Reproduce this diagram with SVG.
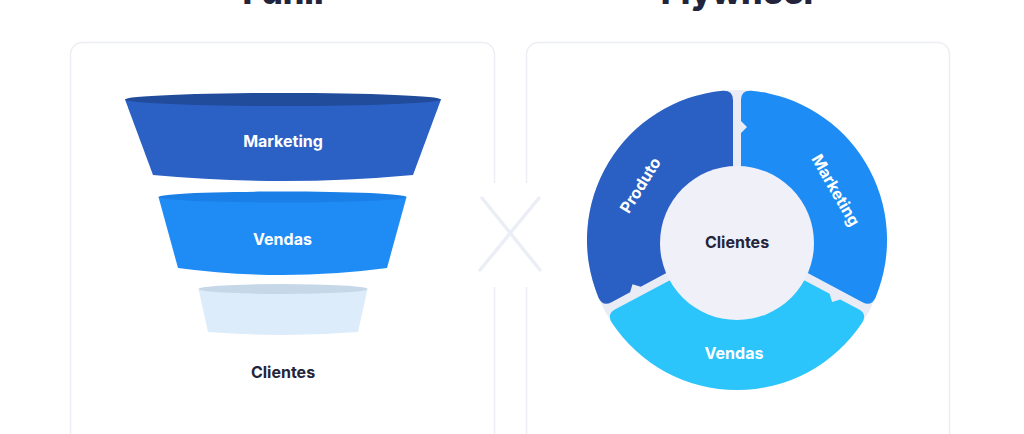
<svg xmlns="http://www.w3.org/2000/svg" width="1024" height="434" viewBox="0 0 1024 434">
<style>
.title{font-family:Inter,"Liberation Sans",sans-serif;font-weight:800;font-size:34px;fill:#23243b;text-anchor:middle}
.lbl{font-family:Inter,"Liberation Sans",sans-serif;font-weight:700;font-size:16px;text-anchor:middle;dominant-baseline:central}
.w{fill:#ffffff}
.d{fill:#23243b}
.card{fill:#ffffff;stroke:#eceef4;stroke-width:1.5}
</style>
<rect width="1024" height="434" fill="#ffffff"/>
<text class="title" x="283" y="4">Funil</text>
<text class="title" x="737" y="4">Flywheel</text>
<rect class="card" x="70.5" y="42.5" width="424" height="402" rx="12"/>
<rect class="card" x="526.5" y="42.5" width="423" height="402" rx="12"/>
<rect x="486" y="183" width="48" height="104" fill="#ffffff"/>
<g id="x-mark" stroke="#eceef6" stroke-width="3.5" stroke-linecap="round">
<line x1="482" y1="198" x2="540" y2="270"/>
<line x1="539" y1="198" x2="480" y2="270"/>
</g>
<g id="funnel-marketing">
<path d="M125,99.5 L153,175 Q283,187 413,175 L441,99.5 Z" fill="#2b60c5"/>
<ellipse cx="283" cy="99.5" rx="158" ry="6.5" fill="#214c9c"/>
<text class="lbl w" x="283" y="141">Marketing</text>
</g>
<g id="funnel-vendas">
<path d="M158.5,197 L178,268 Q282.5,282 387,268 L406.5,197 Z" fill="#1f8cf6"/>
<ellipse cx="282.5" cy="197" rx="124" ry="5.5" fill="#1a7fe6"/>
<text class="lbl w" x="282.5" y="239">Vendas</text>
</g>
<g id="funnel-clientes">
<path d="M198.5,289 L208,332 Q283,338 358,332 L367.5,289 Z" fill="#dcecfb"/>
<ellipse cx="283" cy="289" rx="84.5" ry="5" fill="#c6d8e8"/>
</g>
<g id="funnel-clientes-label">
<text class="lbl d" x="283" y="372">Clientes</text>
</g>
<g id="flywheel-bg">
<circle cx="737" cy="240" r="150" fill="#e9ecf5"/>
</g>
<g id="fly-marketing">
<path d="M741,180 L741,133 L747,127 L741,121 L741,100 Q741,90.05 751.4,90.7 A150,150 0 0 1 875.6,297.4 Q871.3,306.9 862.5,302.2 L791.8,264.6 Z" fill="#1e8cf5"/>
<text class="lbl w" x="836" y="190" transform="rotate(60 836 190)">Marketing</text>
</g>
<g id="fly-vendas">
<path d="M788.1,271.7 L829.6,293.8 L832.1,301.9 L840.2,299.4 L858.7,309.3 Q867.5,313.9 862.1,322.8 A150,150 0 0 1 611.9,322.8 Q606.5,313.9 615.3,309.3 L685.9,271.7 Z" fill="#2bc5fc"/>
<text class="lbl w" x="734" y="353">Vendas</text>
</g>
<g id="fly-produto">
<path d="M682.2,264.6 L640.7,286.7 L632.5,284.2 L630.1,292.3 L611.5,302.2 Q602.7,306.9 598.4,297.4 A150,150 0 0 1 722.6,90.7 Q733,90.05 733,100 L733,180 Z" fill="#2a5fc4"/>
<text class="lbl w" x="640" y="185" transform="rotate(-58 640 185)">Produto</text>
</g>
<g id="fly-clientes">
<circle cx="737" cy="243" r="77" fill="#eff0f8"/>
<text class="lbl d" x="737" y="242">Clientes</text>
</g>
<g id="connectors"></g>
</svg>
